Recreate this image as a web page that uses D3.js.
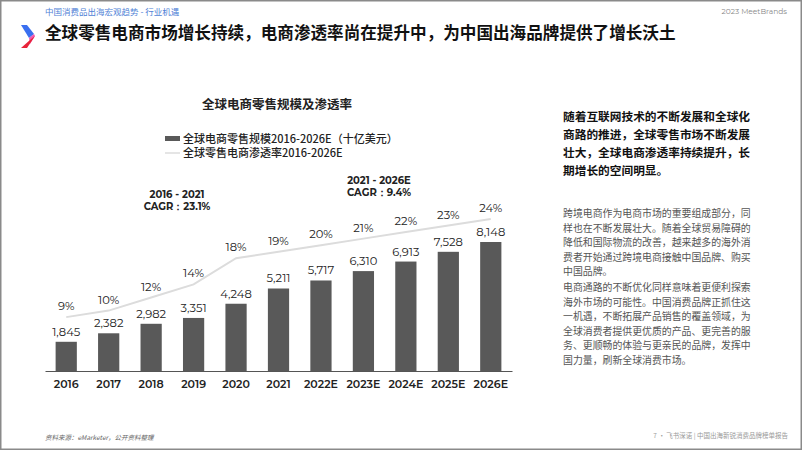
<!DOCTYPE html>
<html>
<head>
<meta charset="utf-8">
<style>
  body { margin: 0; background: #fff; font-family: "Noto Sans CJK SC", "Noto Sans", sans-serif; }
  svg { display: block; }
</style>
</head>
<body>
<script src="https://cdn.jsdelivr.net/npm/d3@7"></script>
<script>
// chart data
var years   = ["2016", "2017", "2018", "2019", "2020", "2021", "2022E", "2023E", "2024E", "2025E", "2026E"];
var sales   = [1845, 2382, 2982, 3351, 4248, 5211, 5717, 6310, 6913, 7528, 8148];
var penRate = [9, 10, 12, 14, 18, 19, 20, 21, 22, 23, 24];
var legendLabels = ["全球电商零售规模2016-2026E（十亿美元）", "全球零售电商渗透率2016-2026E"];
var cagrNotes = [
  {lines: ["2016 - 2021", "CAGR：23.1%"], x: 177, y: 198},
  {lines: ["2021 - 2026E", "CAGR：9.4%"], x: 379, y: 184}
];
var boldText = ["随着互联网技术的不断发展和全球化", "商路的推进，全球零售市场不断发展", "壮大，全球电商渗透率持续提升，长", "期增长的空间明显。"];
var para1 = ["跨境电商作为电商市场的重要组成部分，同", "样也在不断发展壮大。随着全球贸易障碍的", "降低和国际物流的改善，越来越多的海外消", "费者开始通过跨境电商接触中国品牌、购买", "中国品牌。"];
var para2 = ["电商通路的不断优化同样意味着更便利探索", "海外市场的可能性。中国消费品牌正抓住这", "一机遇，不断拓展产品销售的覆盖领域，为", "全球消费者提供更优质的产品、更完善的服", "务、更顺畅的体验与更亲民的品牌，发挥中", "国力量，刷新全球消费市场。"];

var W = 802, H = 451;
var svg = d3.select("body").append("svg")
    .attr("width", W).attr("height", H);

svg.append("rect").attr("width", W).attr("height", H).attr("fill", "#fff");

// page header
svg.append("text").attr("x", 45).attr("y", 15)
    .attr("font-size", 8.5).attr("fill", "#4f7fd6")
    .text("中国消费品出海宏观趋势 - 行业机遇");
svg.append("text").attr("x", 787).attr("y", 14).attr("text-anchor", "end")
    .attr("font-family", "Montserrat, 'Open Sans', sans-serif")
    .attr("font-size", 7.5).attr("fill", "#888")
    .text("2023 MeetBrands");

// logo
svg.append("path").attr("d", "M21,25 L27,25 L34,34 L29,38 Z").attr("fill", "#3a6ff0");
svg.append("path").attr("d", "M29,38 L34,34 L35,36 L30,44 Z").attr("fill", "#f05ab0");
svg.append("path").attr("d", "M30,40 L35,36 L27,48 L21,48 Z").attr("fill", "#e8233a");

svg.append("text").attr("x", 45).attr("y", 39)
    .attr("font-size", 16.6).attr("font-weight", 700).attr("fill", "#111")
    .text("全球零售电商市场增长持续，电商渗透率尚在提升中，为中国出海品牌提供了增长沃土");

// chart title and legend
svg.append("text").attr("x", 277).attr("y", 109).attr("text-anchor", "middle")
    .attr("font-size", 12.5).attr("font-weight", 700).attr("fill", "#222")
    .text("全球电商零售规模及渗透率");

svg.append("rect").attr("x", 165).attr("y", 136).attr("width", 15).attr("height", 5).attr("fill", "#595959");
svg.append("text").attr("x", 183).attr("y", 142.5)
    .attr("font-size", 11).attr("font-weight", 500).attr("fill", "#222").text(legendLabels[0]);
svg.append("line").attr("x1", 165).attr("x2", 180).attr("y1", 153).attr("y2", 153)
    .attr("stroke", "#ddd").attr("stroke-width", 1.5);
svg.append("text").attr("x", 183).attr("y", 157)
    .attr("font-size", 11).attr("font-weight", 500).attr("fill", "#222").text(legendLabels[1]);

// scales
var x = d3.scaleBand().domain(years).range([45, 512]).paddingInner(0.5).paddingOuter(0.25);
var y = d3.scaleLinear().domain([0, 8148]).range([371, 242]);
var yp = d3.scaleLinear().domain([0, 24]).range([376, 219]);

var numFont = "Montserrat, 'Open Sans', 'Noto Sans', sans-serif";
var fmt = d3.format(",");

var g = svg.append("g");
g.selectAll(".bar").data(sales).enter().append("rect")
    .attr("class", "bar")
    .attr("x", (d, i) => x(years[i]))
    .attr("width", x.bandwidth())
    .attr("y", d => y(d))
    .attr("height", d => y(0) - y(d))
    .attr("fill", "#595959");

g.selectAll(".val").data(sales).enter().append("text")
    .attr("x", (d, i) => x(years[i]) + x.bandwidth() / 2)
    .attr("y", d => y(d) - 6)
    .attr("text-anchor", "middle")
    .attr("font-family", numFont).attr("font-size", 11.5).attr("fill", "#222")
    .text(d => fmt(d));

// x axis
var xAxis = d3.axisBottom(x).tickSize(0).tickPadding(9);
var ax = g.append("g").attr("transform", "translate(0,371)").call(xAxis);
ax.select(".domain").attr("stroke", "#555").attr("stroke-width", 1);
ax.selectAll("text").attr("font-family", numFont).attr("font-size", 11)
    .attr("font-weight", 600).attr("fill", "#222");

// penetration line
var line = d3.line()
    .x((d, i) => x(years[i]) + x.bandwidth() / 2)
    .y(d => yp(d));
g.append("path").datum(penRate).attr("d", line)
    .attr("fill", "none").attr("stroke", "#dcdcdc").attr("stroke-width", 2);

g.selectAll(".pct").data(penRate).enter().append("text")
    .attr("x", (d, i) => x(years[i]) + x.bandwidth() / 2)
    .attr("y", d => yp(d) - 7)
    .attr("text-anchor", "middle")
    .attr("font-family", numFont).attr("font-size", 11.5).attr("fill", "#222")
    .text(d => d + "%");

// CAGR notes
cagrNotes.forEach(function(n) {
  n.lines.forEach(function(t, j) {
    svg.append("text").attr("x", n.x).attr("y", n.y + j * 12)
        .attr("text-anchor", "middle")
        .attr("font-family", numFont).attr("font-size", 10)
        .attr("font-weight", 700).attr("fill", "#222")
        .text(t);
  });
});

// right side text
boldText.forEach(function(t, i) {
  svg.append("text").attr("x", 563).attr("y", 121 + i * 18)
      .attr("font-size", 11.7).attr("font-weight", 700).attr("fill", "#111").text(t);
});
para1.forEach(function(t, i) {
  svg.append("text").attr("x", 563).attr("y", 217 + i * 14.5)
      .attr("font-size", 9.9).attr("fill", "#555").text(t);
});
para2.forEach(function(t, i) {
  svg.append("text").attr("x", 563).attr("y", 291 + i * 14.5)
      .attr("font-size", 9.9).attr("fill", "#555").text(t);
});

// footer
svg.append("text").attr("x", 45).attr("y", 440)
    .attr("font-size", 6.5).attr("font-style", "italic").attr("fill", "#666")
    .text("资料来源：eMarketer，公开资料整理");
svg.append("text").attr("x", 788).attr("y", 438).attr("text-anchor", "end")
    .attr("font-size", 6.5).attr("fill", "#999")
    .text("7 · 飞书深诺 | 中国出海新锐消费品牌榜单报告");

// frame
svg.append("rect").attr("x", 0.75).attr("y", 0.75).attr("width", W - 1.5).attr("height", H - 2.5)
    .attr("fill", "none").attr("stroke", "#8a8a8a").attr("stroke-width", 1.5);
</script>
</body>
</html>
